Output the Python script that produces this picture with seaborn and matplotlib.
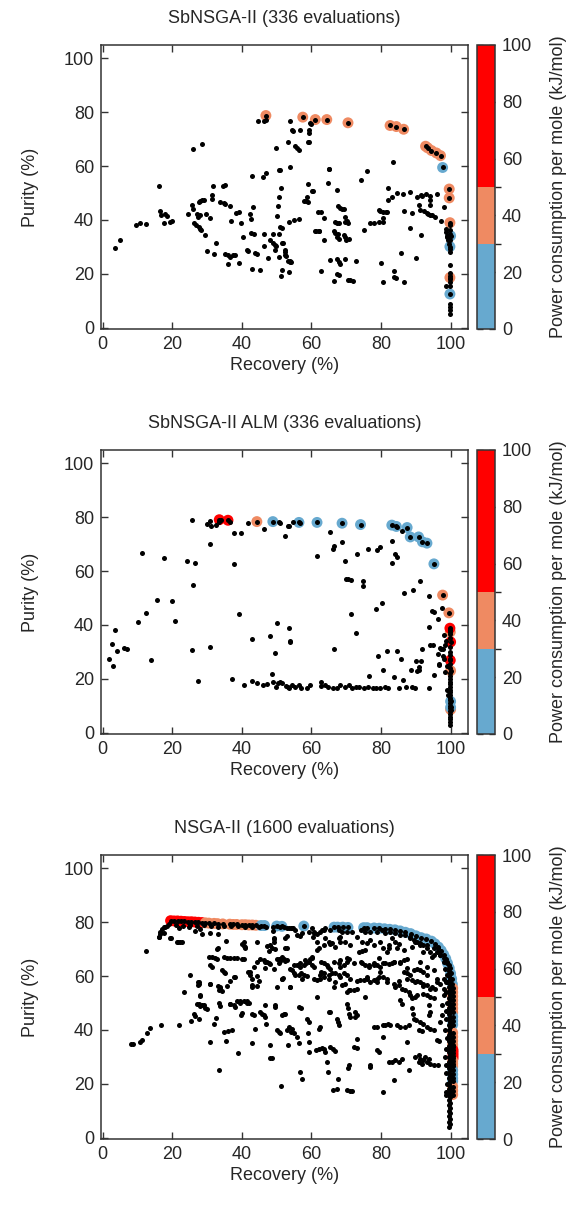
import pandas as pd
import seaborn as sns
import matplotlib.pyplot as plt
from matplotlib.colors import ListedColormap, BoundaryNorm
from matplotlib.cm import ScalarMappable

# --- data (recovery %, purity %) ---
titles = ["SbNSGA-II (336 evaluations)",
          "SbNSGA-II ALM (336 evaluations)",
          "NSGA-II (1600 evaluations)"]

power_edges = [0, 30, 50, 100]
power_levels = ["low", "mid", "high"]
power_colors = ["#67a9cf", "#ef8a62", "#ff0000"]

sbnsga_points = [
    (3.4, 29.6), (4.9, 32.5), (9.6, 38.0), (10.8, 38.7), (12.3, 38.4), (16.2, 52.5), (16.5, 43.4),
    (16.8, 41.8), (18.0, 42.1), (18.4, 41.5), (17.7, 38.7), (19.2, 39.3), (19.8, 39.5),
    (24.4, 42.3), (25.8, 45.6), (26.0, 43.9), (26.0, 66.4), (28.4, 68.3), (27.0, 42.1), (27.6, 46.5),
    (28.1, 47.0), (28.5, 47.3), (29.0, 47.6), (27.3, 41.1), (28.1, 41.8), (27.6, 37.4), (28.1, 36.8),
    (28.3, 36.2), (26.1, 38.7), (26.9, 38.3), (29.5, 34.3), (29.8, 42.4), (30.7, 40.9), (30.0, 28.5),
    (31.4, 49.2), (31.5, 47.8), (31.7, 52.7), (32.1, 27.4), (32.5, 31.5), (33.8, 46.8), (34.8, 46.3),
    (35.2, 46.1), (34.6, 52.8), (35.2, 53.0), (35.2, 27.5), (35.9, 27.1), (35.9, 23.8), (36.7, 26.3),
    (37.4, 26.9), (38.1, 27.0), (36.6, 45.2), (36.9, 39.5), (38.3, 42.6), (39.2, 42.8), (39.3, 24.0),
    (39.8, 38.7), (40.3, 33.7), (42.2, 42.1), (42.6, 40.3), (42.7, 35.2), (43.3, 44.9), (43.6, 34.8),
    (41.4, 28.7), (41.8, 28.3), (43.9, 27.9), (44.3, 27.5), (42.8, 21.8), (45.2, 21.3), (43.0, 56.3),
    (46.1, 56.0), (46.9, 57.5), (46.3, 34.9), (46.3, 30.4), (47.4, 25.7), (44.5, 76.7), (46.5, 76.8),
    (47.0, 77.0), (48.9, 34.7), (48.2, 32.5), (48.9, 31.4), (49.4, 30.6), (49.9, 30.5), (49.6, 29.0),
    (50.1, 41.4), (50.3, 45.1), (50.6, 48.6), (51.2, 51.9), (50.8, 34.9), (50.9, 37.3), (51.4, 37.2),
    (51.6, 31.5), (51.4, 21.3), (50.6, 26.1), (50.6, 58.5), (51.1, 58.5), (49.8, 66.8), (51.3, 19.1),
    (52.3, 28.7), (52.5, 26.9), (53.2, 24.8), (53.5, 20.7), (53.9, 24.4), (53.7, 59.7), (53.4, 39.2),
    (53.7, 76.7), (53.2, 69.1), (54.5, 73.4), (55.4, 67.4), (55.9, 66.9), (56.5, 65.9), (56.7, 73.6),
    (55.1, 40.1), (56.3, 40.5), (57.8, 47.0), (58.3, 47.1), (58.9, 46.7), (58.7, 48.5), (59.0, 53.3),
    (59.2, 73.6), (59.2, 72.4), (59.6, 76.1), (58.9, 68.9), (59.3, 68.8), (60.1, 50.7), (59.9, 75.8),
    (61.1, 35.9), (62.2, 35.9), (61.9, 42.9), (62.7, 42.8), (63.5, 40.6), (63.5, 32.5), (64.7, 53.9),
    (64.9, 59.1), (62.8, 21.1), (65.4, 25.3), (66.4, 35.9), (66.9, 35.2), (67.3, 33.7), (67.5, 34.9),
    (67.8, 33.0), (67.4, 25.4), (67.8, 24.3), (68.2, 23.8), (67.3, 20.1), (67.8, 19.7), (67.3, 51.1),
    (67.5, 45.1), (68.3, 44.4), (68.8, 44.2), (69.3, 43.9), (69.5, 41.1), (66.9, 39.3), (67.3, 38.9),
    (67.8, 38.9), (69.7, 39.3), (70.2, 39.5), (69.4, 34.3), (69.7, 33.7), (70.0, 32.5), (70.7, 33.0),
    (69.5, 25.4), (70.4, 17.8), (71.2, 17.6), (71.9, 17.3), (66.6, 17.3), (72.9, 24.7), (70.4, 38.7),
    (74.3, 55.0), (75.2, 36.2), (76.0, 58.2), (76.9, 38.8), (78.1, 38.8), (79.3, 43.6), (79.8, 43.4),
    (80.5, 39.4), (80.5, 43.0), (81.3, 42.9), (81.8, 43.0), (82.0, 52.0), (83.1, 48.6), (83.4, 61.6),
    (79.9, 24.0), (80.7, 17.0), (83.7, 21.1), (83.7, 18.8), (84.3, 18.5), (84.5, 50.2), (85.7, 27.9),
    (86.2, 49.6), (86.5, 43.5), (86.6, 17.1), (88.2, 50.4), (88.4, 36.9), (89.0, 42.6), (90.0, 25.8),
    (90.3, 48.5), (79.5, 39.3), (80.6, 40.9), (82.0, 47.5), (91.4, 49.4), (91.9, 48.9), (93.0, 49.8),
    (94.0, 48.8), (94.2, 47.3), (94.2, 45.6), (90.9, 45.7), (91.5, 34.6), (92.4, 43.4), (93.1, 42.6),
    (93.6, 42.4), (94.2, 41.9), (94.7, 41.8), (95.6, 41.1), (96.2, 49.8), (97.3, 39.7), (98.2, 44.9),
    (98.6, 36.6), (98.8, 35.4), (99.0, 33.5), (99.2, 32.5), (99.6, 31.2), (98.6, 15.5), (91.1, 43.7),
    (99.0, 34.1), (99.8, 38.0), (99.8, 36.4), (99.8, 34.7), (99.8, 32.7), (99.8, 29.4), (99.8, 28.1),
    (99.8, 23.4), (99.8, 20.3), (99.8, 19.2), (99.8, 18.1), (99.8, 17.0), (99.8, 15.6), (99.8, 8.9),
    (99.8, 7.7), (99.8, 6.4), (99.8, 5.0), (51.9, 31.5), (52.3, 28.1), (52.8, 26.6), (53.7, 24.7),
    (54.2, 24.3), (61.4, 35.8), (62.3, 35.8), (65.1, 59.0), (60.4, 50.8), (54.6, 73.2),
]
sbnsga_front = [
    (46.9, 78.8, 40), (57.5, 78.2, 40), (61.1, 77.3, 40), (64.4, 77.3, 40), (70.5, 76.1, 40),
    (82.6, 75.1, 40), (84.4, 74.7, 40), (86.5, 73.7, 40), (92.8, 67.4, 40), (93.4, 66.8, 40),
    (94.5, 65.8, 40), (95.9, 64.9, 40), (97.1, 63.9, 40), (97.7, 59.5, 25), (99.6, 51.5, 40),
    (99.6, 48.2, 40), (99.8, 39.0, 40), (100.0, 34.1, 25), (99.8, 30.1, 25), (99.8, 18.6, 40),
    (99.8, 12.5, 25),
]

alm_points = [
    (1.9, 27.3), (2.9, 24.8), (2.8, 33.0), (3.5, 38.0), (4.2, 30.4), (6.2, 31.5), (7.0, 30.9),
    (10.2, 41.0), (11.2, 66.8), (12.5, 44.6), (13.8, 27.0), (15.6, 49.3), (17.5, 64.7), (20.0, 48.8),
    (20.9, 41.4), (24.2, 63.7), (26.4, 63.1), (25.8, 78.9), (25.9, 54.8), (25.8, 30.7), (27.5, 19.3),
    (30.0, 77.6), (30.7, 78.8), (31.2, 76.6), (30.9, 70.0), (30.9, 31.8), (32.6, 77.3), (33.3, 78.3),
    (34.1, 78.9), (36.7, 78.1), (37.6, 74.2), (39.8, 74.0), (37.7, 62.5), (39.2, 43.9), (37.2, 20.0),
    (40.5, 17.6), (41.9, 77.7), (42.8, 34.8), (42.8, 19.2), (44.4, 18.5), (46.1, 17.8), (47.3, 18.2),
    (46.4, 75.5), (48.2, 35.8), (48.7, 21.9), (49.4, 29.5), (50.1, 40.9), (48.9, 18.8), (49.8, 17.0),
    (50.5, 18.5), (51.4, 18.6), (50.7, 78.1), (52.3, 72.9), (53.3, 76.6), (53.2, 17.1), (53.4, 38.8),
    (53.7, 33.7), (53.4, 76.7), (54.6, 78.1), (53.9, 34.0), (51.1, 77.7), (56.8, 77.7), (84.6, 76.5),
    (51.1, 18.8), (52.7, 17.2), (53.4, 16.7), (54.4, 17.6), (55.4, 17.0), (56.3, 17.8), (57.0, 16.7),
    (58.6, 16.6), (59.7, 17.6), (62.8, 18.8), (62.6, 17.2), (63.8, 17.6), (64.8, 17.0), (66.1, 16.7),
    (67.3, 16.6), (68.3, 17.6), (69.5, 17.0), (70.7, 17.6), (71.6, 16.6), (72.8, 17.0), (73.8, 17.0),
    (75.0, 16.5), (76.2, 17.0), (77.6, 16.6), (78.6, 16.6), (79.8, 16.6), (81.0, 17.0), (81.9, 16.6),
    (61.6, 65.6), (65.2, 74.6), (66.4, 69.4), (66.1, 68.4), (68.9, 70.8), (69.5, 63.9), (69.8, 57.2),
    (70.6, 56.9), (71.5, 56.8), (74.9, 56.3), (74.7, 54.6), (71.5, 44.2), (72.7, 36.9), (66.6, 31.0),
    (73.1, 66.2), (76.3, 68.2), (78.9, 68.0), (79.8, 68.9), (78.5, 46.1), (80.3, 48.3), (76.4, 21.2),
    (79.2, 28.6), (80.5, 23.4), (81.8, 30.2), (83.8, 20.7), (84.6, 30.5), (85.8, 27.4), (85.3, 16.6),
    (87.1, 16.9), (88.9, 17.0), (89.7, 16.6), (86.2, 19.7), (83.2, 71.1), (83.1, 62.9), (84.1, 66.4),
    (84.5, 65.3), (86.0, 75.0), (86.7, 51.8), (89.3, 53.0), (91.1, 56.3), (90.0, 26.5), (90.3, 22.8),
    (90.8, 23.2), (91.6, 26.5), (90.9, 24.3), (88.5, 23.3), (91.9, 31.2), (93.8, 39.2), (94.0, 32.6),
    (94.8, 32.7), (93.8, 16.6), (95.2, 45.0), (96.3, 42.4), (95.3, 21.6), (96.6, 25.3), (97.2, 31.2),
    (97.5, 46.3), (98.4, 32.5), (98.8, 34.0), (97.9, 28.4), (98.2, 27.4), (98.5, 22.6), (98.9, 24.8),
    (93.8, 50.7), (94.7, 45.2), (98.0, 36.4), (97.0, 31.5), (97.7, 31.0), (96.5, 29.4), (96.8, 25.4),
    (98.9, 15.7), (99.2, 14.1),
    (99.8, 38.0), (99.8, 36.5), (99.8, 35.0), (99.8, 32.0), (99.8, 30.0), (99.8, 29.0), (99.8, 27.5),
    (99.8, 25.5), (99.8, 24.0), (99.8, 22.0), (99.8, 21.0), (99.8, 20.0), (99.8, 19.0), (99.8, 18.0),
    (99.8, 17.0), (99.8, 16.0), (99.8, 15.0), (99.8, 14.0), (99.8, 13.0), (99.8, 12.0), (99.8, 11.0),
    (99.8, 10.0), (99.8, 9.0), (99.8, 8.0), (99.8, 7.0), (99.8, 6.0), (99.8, 5.0), (99.8, 4.0),
    (99.8, 3.0),
]
alm_front = [
    (33.5, 79.1, 70), (36.0, 78.9, 70), (44.3, 78.4, 40), (48.9, 78.4, 20), (56.4, 78.1, 20),
    (61.6, 78.1, 20), (68.8, 77.8, 20), (74.1, 77.3, 20), (83.1, 77.1, 20), (84.4, 76.6, 20),
    (87.5, 76.2, 20), (88.4, 72.7, 20), (90.8, 72.7, 20), (91.9, 70.9, 20), (93.2, 70.4, 20),
    (95.2, 62.7, 20), (97.7, 51.1, 40), (99.5, 44.5, 40), (99.9, 37.4, 40), (99.8, 38.8, 70),
    (100.0, 33.7, 70), (99.9, 26.9, 70), (100.0, 23.0, 40), (100.0, 11.6, 20), (100.0, 8.6, 40),
    (100.0, 9.4, 20),
]

nsga_points = [
    (8.1, 34.9), (8.6, 34.8), (10.8, 35.6), (11.3, 36.2), (12.7, 38.7), (13.5, 40.9), (12.3, 69.4),
    (16.8, 42.0), (16.1, 74.6), (16.4, 75.8), (17.0, 77.4), (17.7, 78.3), (18.5, 78.6), (19.4, 74.2),
    (21.4, 72.7), (22.3, 72.7), (21.8, 42.0), (23.3, 54.2), (25.0, 60.3), (25.5, 43.2), (26.2, 46.1),
    (26.6, 45.2), (27.6, 44.0), (27.1, 49.8), (27.6, 49.8), (28.5, 49.4), (27.3, 57.9), (27.6, 57.2),
    (28.1, 52.9), (29.5, 48.2), (30.5, 67.2), (31.4, 67.2), (32.4, 66.9), (32.9, 66.5), (30.9, 64.1),
    (31.4, 63.4), (30.7, 57.2), (33.1, 56.4), (33.8, 55.6), (32.1, 42.4), (32.5, 44.5), (30.7, 35.6),
    (33.3, 25.0), (33.0, 70.3), (34.3, 62.2), (34.8, 61.6), (35.2, 61.0), (34.8, 67.2), (35.7, 66.9),
    (36.7, 66.9), (37.6, 66.9), (38.6, 66.9), (40.0, 66.5), (40.5, 66.5), (34.8, 39.3), (35.9, 39.5),
    (37.2, 39.9), (35.4, 35.8), (36.7, 49.8), (37.6, 49.2), (37.8, 59.7), (38.9, 31.6), (38.6, 50.7),
    (39.6, 50.9), (40.5, 50.9), (41.5, 50.7), (42.0, 50.1), (40.0, 46.3), (39.7, 45.5), (40.0, 72.1),
    (40.6, 71.3), (41.0, 70.3), (41.7, 61.6), (42.3, 60.6), (42.9, 59.1), (42.9, 56.6), (42.9, 45.8),
    (43.4, 45.5), (43.7, 40.5), (42.9, 35.3), (43.4, 63.4), (44.3, 65.3), (45.3, 66.2), (46.3, 65.9),
    (46.7, 65.3), (47.7, 64.7), (44.3, 72.5), (45.3, 46.7), (45.8, 46.1), (46.3, 45.5), (46.7, 44.9),
    (46.7, 49.2), (47.0, 42.4), (48.2, 29.7), (48.7, 29.7), (48.2, 34.6), (49.0, 76.7), (49.1, 74.0),
    (48.2, 71.5), (48.7, 70.6), (49.1, 72.8), (49.6, 49.2), (50.1, 39.9), (50.6, 39.3), (51.1, 38.7),
    (50.1, 66.5), (50.6, 66.5), (51.1, 66.5), (51.5, 67.2), (51.5, 59.1), (51.8, 59.4), (51.2, 19.1),
    (50.6, 64.7), (52.0, 46.1), (52.5, 45.8), (52.5, 70.3), (53.0, 70.5), (53.0, 39.9), (53.6, 41.1),
    (54.4, 40.3), (54.9, 38.7), (54.0, 39.3), (53.7, 62.8), (54.4, 62.2), (54.9, 61.0), (53.2, 34.3),
    (53.9, 55.8), (54.2, 77.7), (54.7, 77.7), (55.4, 60.3), (56.3, 60.3), (57.1, 61.0), (57.8, 60.3),
    (55.8, 75.2), (56.6, 75.0), (55.8, 64.1), (56.8, 63.4), (57.8, 64.1), (58.5, 64.7), (59.2, 65.3),
    (60.2, 64.1), (60.6, 63.4), (56.3, 48.6), (57.0, 48.0), (55.8, 37.4), (56.3, 35.2), (56.8, 24.4),
    (57.3, 21.9), (58.7, 44.2), (59.2, 43.0), (59.0, 38.7), (59.2, 35.6), (59.2, 31.8), (59.7, 66.5),
    (60.2, 67.2), (60.2, 77.7), (60.6, 76.5), (61.6, 75.8), (62.4, 76.5), (63.0, 77.1), (61.6, 69.6),
    (62.1, 70.3), (61.6, 58.5), (62.5, 59.1), (63.5, 59.7), (61.6, 52.3), (62.1, 40.5), (62.5, 41.1),
    (61.4, 32.5), (62.1, 33.1), (63.0, 33.4), (63.5, 32.8), (64.0, 31.8), (62.5, 60.3), (63.5, 61.0),
    (64.9, 60.3), (65.9, 61.0), (66.9, 61.0), (67.8, 60.3), (69.3, 61.0), (70.2, 60.3), (63.5, 64.7),
    (64.7, 63.4), (65.4, 62.8), (64.0, 74.0), (64.9, 72.7), (65.2, 72.1), (64.5, 28.1), (64.7, 24.4),
    (64.9, 46.7), (65.4, 46.7), (65.4, 33.7), (66.1, 33.1), (66.7, 32.1), (66.2, 17.6), (67.2, 18.0),
    (67.3, 44.2), (67.5, 43.0), (67.8, 41.8), (67.6, 21.9), (66.4, 56.0), (67.8, 74.0), (68.1, 72.7),
    (67.8, 64.7), (68.3, 63.4), (69.3, 64.1), (68.8, 56.6), (69.7, 57.2), (70.2, 65.3), (70.7, 66.5),
    (70.2, 49.8), (70.4, 48.0), (70.7, 46.1), (71.2, 44.9), (70.2, 54.2), (70.7, 54.8), (71.2, 54.8),
    (72.1, 55.0), (73.1, 55.1), (70.7, 26.9), (70.4, 25.7), (70.2, 17.6), (71.0, 17.3), (71.6, 17.3),
    (72.1, 33.7), (73.1, 33.3), (72.6, 46.7), (73.1, 45.5), (72.6, 44.9), (73.6, 69.1), (74.5, 69.3),
    (75.5, 69.6), (74.0, 58.5), (75.0, 58.5), (75.9, 59.7), (73.1, 36.8), (74.5, 64.7), (75.5, 64.1),
    (76.4, 63.4), (75.5, 52.3), (76.9, 57.9), (77.9, 58.5), (78.8, 59.1), (79.3, 59.7), (76.7, 26.2),
    (76.9, 27.1), (77.9, 64.7), (78.8, 64.1), (79.8, 63.4), (77.9, 41.1), (78.8, 41.1), (79.3, 66.7),
    (78.8, 32.5), (79.3, 31.8), (79.8, 61.6), (80.7, 59.7), (81.7, 59.1), (80.5, 17.0), (80.7, 41.8),
    (81.2, 41.8), (81.9, 42.4), (82.7, 42.0), (80.7, 37.4), (81.2, 64.7), (82.2, 64.4), (83.1, 64.7),
    (83.8, 65.1), (80.7, 70.3), (81.7, 69.0), (82.2, 70.3), (82.2, 28.1), (83.1, 28.1), (84.1, 28.7),
    (85.1, 28.1), (86.0, 29.4), (83.6, 21.3), (83.6, 57.2), (84.1, 56.0), (85.1, 56.6), (83.1, 74.0),
    (84.1, 72.7), (85.1, 72.1), (84.6, 42.0), (85.5, 41.1), (87.0, 41.1), (87.9, 42.0), (85.5, 51.1),
    (86.0, 49.8), (85.5, 65.3), (86.5, 65.9), (87.4, 66.5), (86.0, 55.4), (86.9, 54.8), (87.9, 54.2),
    (86.5, 61.6), (87.4, 61.0), (88.3, 60.3), (88.0, 25.0), (87.4, 35.6), (89.0, 48.0), (89.3, 46.1),
    (89.4, 44.2), (89.0, 58.5), (89.8, 57.9), (88.3, 52.9), (89.0, 51.7), (89.8, 52.3), (89.9, 30.0),
    (90.8, 30.6), (91.3, 29.4), (92.2, 28.7), (93.2, 28.1), (94.2, 27.5), (95.1, 26.9), (96.5, 26.9),
    (90.8, 28.1), (91.8, 27.5), (92.7, 30.0), (93.7, 29.4), (90.1, 43.6), (91.1, 43.0), (92.2, 42.4),
    (93.2, 41.1), (94.2, 40.5), (95.1, 39.9), (90.8, 39.9), (91.8, 39.5), (90.3, 62.8), (91.3, 62.2),
    (92.2, 61.6), (93.2, 60.3), (90.3, 52.9), (92.2, 53.5), (93.2, 52.9), (94.2, 52.3), (95.1, 51.7),
    (91.3, 57.9), (92.2, 57.2), (93.2, 56.6), (94.6, 56.0), (95.6, 55.4), (93.7, 49.2), (94.2, 46.7),
    (93.7, 45.5), (96.1, 36.2), (96.8, 35.8), (97.0, 43.0), (97.5, 45.5), (97.5, 49.2), (98.0, 52.9),
    (96.5, 70.3), (97.0, 67.8), (98.0, 65.3), (98.5, 62.8), (98.9, 60.3), (99.1, 57.9), (92.2, 71.5),
    (93.2, 70.3), (94.2, 69.0), (95.1, 67.8), (88.4, 74.0), (89.9, 72.7), (91.3, 71.5), (96.1, 59.1),
    (97.0, 57.2), (98.0, 55.4), (98.2, 59.1), (98.6, 15.7),
    (18.0, 78.1), (16.6, 76.3), (16.3, 74.4), (17.5, 75.9), (19.7, 74.0), (21.7, 72.6), (22.8, 72.6),
    (21.9, 77.7), (24.7, 78.1), (26.4, 76.9), (28.1, 77.5), (28.6, 75.6), (30.9, 75.9), (33.0, 75.6),
    (35.3, 73.2), (32.9, 70.1), (40.5, 72.6), (41.0, 70.7), (47.2, 71.3), (47.7, 69.4), (49.6, 70.1),
    (49.1, 73.8), (53.0, 75.0), (27.6, 57.7), (27.3, 56.7), (30.9, 57.0), (33.8, 55.8), (33.3, 54.9),
    (34.3, 54.5), (28.1, 52.7), (28.1, 49.0), (29.0, 49.2), (30.0, 47.7), (33.3, 50.2), (33.8, 49.0),
    (36.7, 49.6), (38.1, 48.7), (39.6, 50.2), (41.5, 50.2), (38.1, 59.5), (36.7, 58.3), (35.7, 56.4),
    (42.4, 61.4), (44.4, 60.1), (44.8, 58.3), (44.4, 56.4), (42.9, 55.8), (47.2, 65.1), (48.2, 64.5),
    (46.7, 63.2), (49.1, 62.6), (51.0, 65.7), (52.0, 66.2), (52.5, 65.7), (51.6, 58.9), (50.1, 55.8),
    (49.6, 48.4), (51.6, 45.5),
    (52.5, 74.1), (57.4, 75.9), (60.3, 74.7), (61.6, 72.8), (63.5, 71.6), (65.9, 72.2), (66.9, 71.0),
    (68.3, 74.7), (69.7, 72.8), (71.2, 71.6), (73.1, 74.7), (74.5, 72.8), (76.0, 72.2), (76.9, 73.4),
    (77.9, 71.6), (79.8, 72.8), (82.2, 71.6), (84.6, 70.3), (86.5, 69.7), (88.9, 71.0), (92.2, 69.1),
    (94.7, 67.2), (51.6, 66.6), (53.0, 66.0), (54.9, 64.1), (56.8, 64.8), (58.2, 66.0), (60.2, 66.6),
    (62.6, 65.4), (64.5, 64.1), (66.4, 65.4), (68.3, 66.0), (70.2, 66.6), (72.1, 64.8), (74.1, 65.4),
    (76.4, 64.1), (77.9, 64.1), (80.7, 64.8), (83.6, 65.4), (85.5, 64.8), (87.5, 62.9), (89.4, 62.3),
    (91.3, 65.4), (93.2, 63.5), (95.1, 62.3), (53.9, 55.8), (57.4, 58.9), (58.7, 60.1), (60.6, 58.9),
    (62.6, 61.4), (64.9, 58.9), (66.9, 57.7), (68.3, 59.5), (71.2, 58.9), (73.1, 58.3), (76.0, 58.9),
    (78.9, 57.7), (81.7, 57.7), (85.1, 58.3), (87.5, 58.9), (90.3, 58.3), (92.2, 56.4), (94.2, 55.2),
    (96.1, 57.7),
    (52.0, 78.1), (53.4, 77.8), (54.4, 78.0), (55.4, 77.2), (59.2, 76.5), (60.6, 75.9), (63.5, 77.2),
    (64.0, 77.8), (65.4, 77.2), (67.8, 77.2), (68.8, 76.5), (70.2, 76.5), (71.7, 76.5), (74.1, 77.2),
    (75.5, 76.5), (76.9, 76.5), (78.9, 76.5), (80.3, 77.2), (81.2, 75.9), (82.7, 76.5), (84.1, 75.9),
    (85.5, 75.3), (87.0, 75.3), (88.4, 74.7), (89.4, 73.4), (90.3, 72.8), (91.3, 72.2), (93.2, 71.6),
    (95.1, 70.3), (96.1, 69.1), (97.0, 67.9), (98.0, 66.6), (99.0, 65.4),
    (19.0, 79.3), (21.0, 79.0), (23.0, 78.8), (25.0, 79.0), (27.0, 78.6), (29.0, 78.9), (31.0, 78.5),
    (33.0, 78.4), (35.0, 78.6), (37.0, 78.5), (39.0, 78.6), (41.0, 78.4), (43.0, 78.3), (45.0, 78.2),
    (47.0, 78.3), (49.0, 78.1), (51.0, 78.2), (53.0, 78.0),
    (99.6, 64.0), (99.6, 62.0), (99.6, 60.0), (99.6, 58.0), (99.6, 56.0), (99.6, 54.0), (99.6, 52.0),
    (99.6, 50.0), (99.6, 48.0), (99.6, 46.0), (99.6, 44.0), (99.6, 42.0), (99.6, 40.0), (99.6, 38.0),
    (99.6, 36.0), (99.6, 34.0), (99.6, 32.0), (99.6, 30.0), (99.6, 28.0), (99.6, 26.0), (99.6, 24.0),
    (99.6, 22.0), (99.6, 20.0), (99.6, 18.0), (99.6, 16.0), (99.6, 14.0), (99.6, 12.0), (99.6, 10.0),
    (99.6, 8.0), (99.6, 6.0), (99.6, 4.0), (99.9, 63.0), (99.9, 61.0), (99.9, 59.0), (99.9, 57.0),
    (99.9, 55.0), (99.9, 53.0), (99.9, 51.0), (99.9, 49.0), (99.9, 47.0), (99.9, 45.0), (99.9, 43.0),
    (99.9, 41.0), (99.9, 39.0), (99.9, 37.0), (99.9, 35.0), (99.9, 33.0), (99.9, 31.0), (99.9, 29.0),
    (99.9, 27.0), (99.9, 25.0), (99.9, 23.0), (99.9, 21.0), (99.9, 19.0), (99.9, 17.0), (99.9, 15.0),
    (99.9, 13.0), (99.9, 11.0), (99.9, 9.0), (99.9, 7.0), (99.9, 5.0), (98.8, 58.0), (98.7, 54.0),
    (98.9, 50.0), (98.6, 47.0), (98.8, 44.0), (98.5, 40.0), (98.9, 37.0), (98.7, 33.0), (98.4, 30.0),
    (98.8, 27.0), (98.6, 24.0), (98.9, 20.0), (98.7, 17.0),
]
nsga_front = [
    (19.5, 80.6, 70), (20.5, 80.5, 70), (21.5, 80.5, 70), (22.5, 80.4, 70), (23.5, 80.3, 70),
    (24.5, 80.2, 70), (25.5, 80.2, 70), (26.5, 80.1, 70), (27.5, 80.0, 70), (28.5, 79.9, 70),
    (29.5, 79.8, 40), (30.5, 79.7, 40), (32.0, 79.6, 40), (33.0, 79.5, 40), (34.5, 79.4, 40),
    (36.5, 79.3, 40), (37.5, 79.2, 40), (38.5, 79.2, 40), (40.0, 79.1, 40), (41.0, 79.1, 40),
    (42.0, 79.0, 40), (43.0, 79.0, 40), (44.0, 78.9, 40),
    (45.5, 78.8, 20), (46.5, 78.8, 20), (50.0, 78.6, 20), (51.5, 78.5, 20), (57.8, 78.6, 20),
    (66.5, 78.2, 20), (67.5, 78.2, 20), (69.0, 78.2, 20), (70.5, 78.1, 20), (75.0, 78.0, 20),
    (76.0, 78.0, 20), (78.0, 77.9, 20), (79.5, 77.8, 20), (81.0, 77.6, 20), (82.5, 77.4, 20),
    (84.0, 77.2, 20), (85.5, 76.8, 20), (87.0, 76.3, 20), (88.5, 75.8, 20), (90.0, 75.0, 20),
    (91.5, 74.3, 20), (93.0, 73.8, 20), (94.5, 73.0, 20), (95.5, 72.0, 20), (96.5, 70.8, 20),
    (97.3, 69.5, 20), (98.0, 68.0, 20), (98.6, 66.5, 20), (99.1, 64.8, 20), (99.6, 63.0, 20),
    (100.0, 61.0, 20), (100.3, 59.0, 20), (100.5, 57.0, 20),
    (100.6, 55.5, 40), (100.6, 54.0, 40), (100.6, 52.5, 40), (100.6, 51.0, 40), (100.6, 49.5, 40),
    (100.6, 48.0, 40), (100.6, 46.5, 40),
    (100.6, 45.0, 20), (100.6, 43.5, 20), (100.6, 42.0, 20),
    (100.6, 39.0, 40), (100.6, 37.5, 40), (100.6, 36.0, 40), (100.6, 34.5, 40), (100.6, 33.5, 40),
    (100.7, 32.5, 70), (100.7, 31.5, 70), (100.7, 30.5, 70), (100.7, 29.5, 70),
    (100.6, 28.5, 40), (100.6, 27.5, 40), (100.6, 26.5, 40),
    (100.6, 25.0, 20), (100.6, 23.5, 20), (100.6, 22.0, 20), (100.6, 21.0, 20),
    (100.6, 19.0, 40), (100.6, 17.5, 40), (100.6, 16.0, 40),
]

panels = [(sbnsga_points, sbnsga_front), (alm_points, alm_front), (nsga_points, nsga_front)]

# --- figure ---
sns.set_theme(style="white")
plt.rcParams['font.family'] = ['Liberation Sans', 'DejaVu Sans']
fs = 13
edge = "#333333"

fig = plt.figure(figsize=(5.73, 12.05), dpi=100)
W, H = 573, 1205
palette = dict(zip(power_levels, power_colors))
cmap = ListedColormap(power_colors)
norm = BoundaryNorm(power_edges, cmap.N)

for i, (pts, front) in enumerate(panels):
    top = 45 + 405 * i
    bottom = 1 - (top + 284) / H
    ax = fig.add_axes([101 / W, bottom, 367 / W, 284 / H])
    cax = fig.add_axes([477 / W, bottom, 18 / W, 284 / H])

    df = pd.DataFrame(pts, columns=["recovery", "purity"])
    fr = pd.DataFrame(front, columns=["recovery", "purity", "power"])
    fr["level"] = pd.cut(fr["power"], power_edges, labels=power_levels)
    all_black = pd.concat([df, fr[["recovery", "purity"]]], ignore_index=True)

    sns.scatterplot(data=fr, x="recovery", y="purity", hue="level", palette=palette,
                    s=62, linewidth=0, legend=False, ax=ax, zorder=2)
    sns.scatterplot(data=all_black, x="recovery", y="purity", color="black",
                    s=13, linewidth=0, legend=False, ax=ax, zorder=3)

    ax.set_xlim(-0.5, 105)
    ax.set_ylim(-0.5, 105)
    ax.set_xticks(range(0, 101, 20))
    ax.set_yticks(range(0, 101, 20))
    ax.tick_params(direction="in", length=5, width=1, color=edge, labelsize=fs,
                   top=True, right=True, bottom=True, left=True, pad=5)
    for sp in ax.spines.values():
        sp.set_color(edge)
        sp.set_linewidth(1.1)
    ax.set_xlabel("Recovery (%)", fontsize=fs, labelpad=3)
    ax.set_ylabel("Purity (%)", fontsize=fs, labelpad=18)
    ax.set_title(titles[i], fontsize=fs, pad=16)

    cb = fig.colorbar(ScalarMappable(norm=norm, cmap=cmap), cax=cax,
                      spacing="proportional", ticks=range(0, 101, 20))
    cb.outline.set_edgecolor(edge)
    cb.outline.set_linewidth(1.1)
    cax.tick_params(direction="in", length=4, width=1, color=edge, labelsize=fs,
                    left=True, right=True, pad=5)
    cb.set_label("Power consumption per mole (kJ/mol)", fontsize=fs, labelpad=13)

fig.savefig("out.png", dpi=100)
